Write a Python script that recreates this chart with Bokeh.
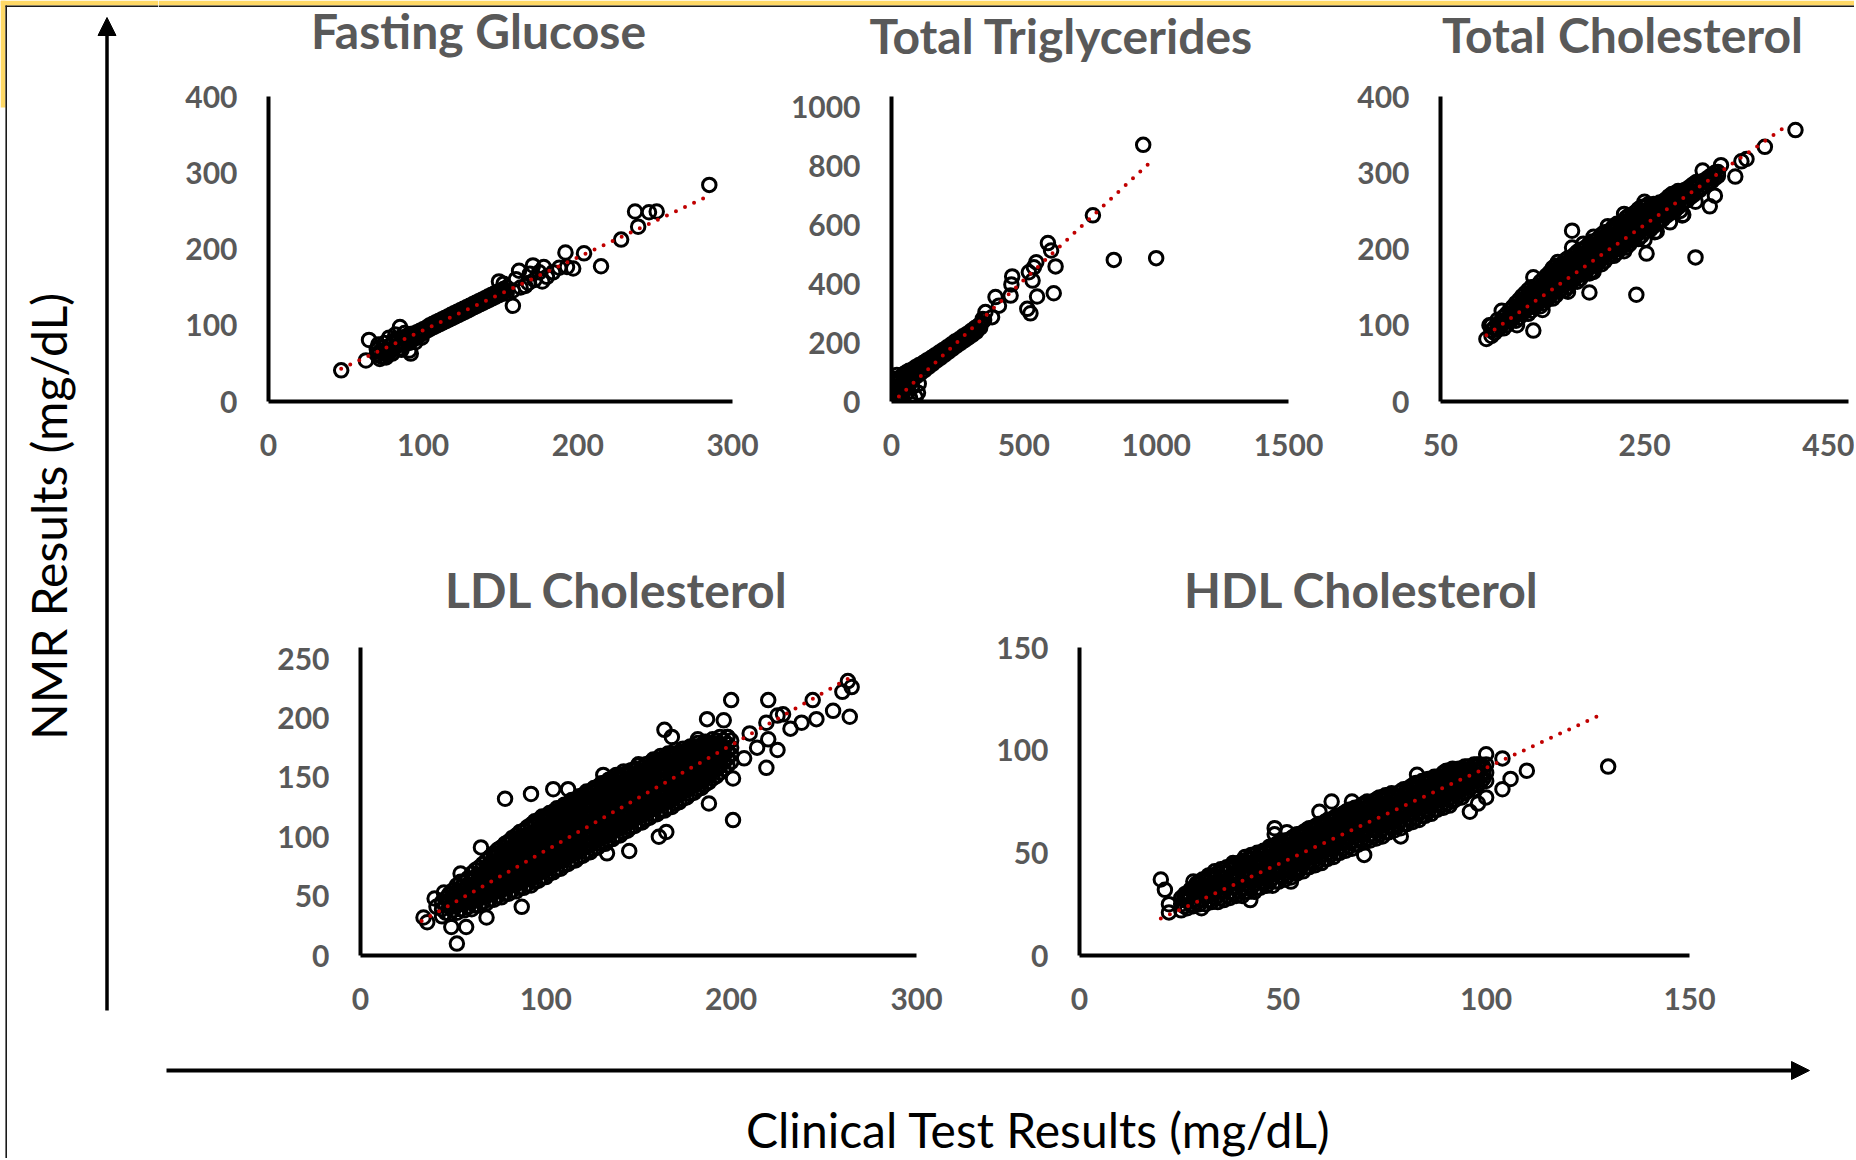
import math
from bokeh.plotting import figure
from bokeh.layouts import row, column
from bokeh.models import Range1d, FixedTicker, Arrow, NormalHead, Label
from bokeh.embed import file_html
from bokeh.resources import INLINE

# ---------------- texts ----------------
panel_titles = ["Fasting Glucose", "Total Triglycerides", "Total Cholesterol",
                "LDL Cholesterol", "HDL Cholesterol"]
x_axis_title = "Clinical Test Results (mg/dL)"
y_axis_title = "NMR Results (mg/dL)"

# ---------------- ticks ----------------
glucose_xticks = [0, 100, 200, 300]
glucose_yticks = [0, 100, 200, 300, 400]
trig_xticks = [0, 500, 1000, 1500]
trig_yticks = [0, 200, 400, 600, 800, 1000]
tc_xticks = [50, 250, 450]
tc_yticks = [0, 100, 200, 300, 400]
ldl_xticks = [0, 100, 200, 300]
ldl_yticks = [0, 50, 100, 150, 200, 250]
hdl_xticks = [0, 50, 100, 150]
hdl_yticks = [0, 50, 100, 150]

# ---------------- trend lines (end points) ----------------
glucose_trend_x = [47, 285]
glucose_trend_y = [43, 271]
trig_trend_x = [28, 987]
trig_trend_y = [17, 819]
tc_trend_x = [95, 392]
tc_trend_y = [87, 364]
ldl_trend_x = [33, 263]
ldl_trend_y = [29, 233]
hdl_trend_x = [20, 129]
hdl_trend_y = [18, 118]

# ---------------- points (clinical, NMR) ----------------
glucose_points = [
    (47, 41), (63, 54), (65, 81), (72, 56), (76, 58), (80, 63), (86, 68), (92, 63), (91, 67), (85, 98),
    (78, 84), (82, 88), (88, 90), (95, 78), (99, 84),
    (70, 62), (70, 69), (71, 75), (72, 65), (73, 59), (74, 71), (75, 64), (75, 77), (76, 68), (77, 61),
    (78, 73), (79, 66), (80, 76), (80, 69), (81, 80), (82, 72), (83, 78), (84, 74), (84, 83), (85, 70),
    (86, 79), (87, 84), (88, 76), (89, 82), (90, 80), (90, 87), (91, 77), (92, 85), (93, 89), (94, 82),
    (95, 88), (96, 91), (97, 86), (98, 93), (99, 89), (100, 95), (101, 92), (102, 97), (103, 94), (104, 100),
    (105, 96), (106, 102), (107, 98), (108, 104), (109, 100), (110, 106), (111, 102), (112, 108), (113, 104),
    (114, 110), (115, 106), (116, 112), (117, 108), (118, 114), (119, 110), (120, 116), (121, 112), (122, 118),
    (123, 114), (124, 120), (125, 116), (126, 122), (127, 118), (128, 124), (129, 120), (130, 126), (131, 122),
    (132, 128), (133, 124), (134, 130), (135, 126), (136, 132), (137, 128), (138, 134), (139, 130), (140, 136),
    (141, 132), (142, 138), (143, 134), (144, 140), (145, 136), (146, 142), (147, 138), (148, 144), (149, 140),
    (150, 146), (151, 142), (152, 148), (153, 145), (154, 150),
    (149, 158), (152, 155), (154, 142), (158, 146), (158, 126), (160, 161), (162, 172), (163, 150), (166, 152),
    (168, 156), (169, 168), (171, 179), (172, 160), (175, 170), (177, 158), (178, 177), (180, 164), (184, 170),
    (188, 176), (192, 196), (193, 177), (197, 175), (204, 195), (215, 178), (228, 213), (237, 250), (239, 230),
    (246, 249), (251, 250), (285, 285),
]

trig_points = [
    (15, 77), (53, 94), (91, 15), (40, 26), (78, 49), (103, 60), (30, 10), (60, 30), (70, 12), (20, 90), (100, 30),
    (5, 20), (8, 48), (12, 32), (15, 62), (18, 15), (22, 42), (25, 72), (28, 28), (32, 55), (35, 82), (38, 38),
    (42, 66), (45, 92), (48, 48), (52, 76), (55, 98), (58, 58), (62, 84), (66, 104), (70, 68), (74, 90), (78, 108),
    (82, 76), (86, 98), (90, 116), (95, 86), (100, 106), (105, 124), (110, 96), (115, 114), (120, 131), (125, 106),
    (130, 124), (135, 140), (140, 117), (145, 133), (150, 148), (155, 127), (160, 143), (165, 157), (170, 138),
    (175, 152), (180, 166), (185, 148), (190, 162), (195, 175), (200, 158), (205, 170), (210, 184), (215, 168),
    (220, 180), (225, 193), (230, 178), (235, 190), (240, 203), (245, 188), (250, 200), (255, 211), (260, 198),
    (265, 209), (270, 221), (275, 207), (280, 218), (285, 229), (290, 216), (295, 227), (300, 239), (305, 226),
    (310, 237), (315, 249), (320, 236), (325, 247), (330, 258), (335, 250), (340, 266), (350, 276),
    (345, 280), (355, 303), (380, 286), (393, 354), (406, 325), (450, 359), (453, 397), (456, 424), (513, 314),
    (525, 299), (519, 438), (533, 410), (538, 455), (547, 472), (550, 356), (591, 537), (603, 512), (613, 367),
    (620, 458), (761, 631), (840, 480), (951, 870), (1000, 486),
]

tc_points = [
    (95, 82), (98, 100), (110, 119), (125, 100), (141, 93), (141, 163), (150, 120), (165, 183), (175, 144),
    (179, 202), (179, 224), (190, 207), (196, 143), (200, 170), (200, 216), (214, 230), (230, 246), (230, 197),
    (242, 140), (250, 262), (250, 212), (252, 194), (260, 222), (262, 223), (275, 235), (285, 250), (287, 244),
    (288, 245), (300, 189), (300, 262), (307, 303), (314, 256), (319, 270), (322, 301), (325, 310), (339, 295),
    (345, 315), (350, 318), (368, 334), (398, 356),
]
tc_columns = [
    (100, [86, 93, 100]), (106, [94, 101, 107]), (112, [96, 103, 111]), (118, [105, 112, 120]),
    (124, [106, 114, 122, 129]), (130, [115, 123, 131, 138]), (136, [115, 123, 131, 139, 146]),
    (142, [124, 132, 140, 148]), (148, [125, 133, 141, 149, 157]), (154, [133, 141, 149, 157, 165]),
    (160, [135, 143, 151, 159, 167, 175]), (166, [144, 152, 160, 168, 176]),
    (172, [146, 154, 162, 170, 178, 185]), (178, [156, 164, 172, 180, 188]),
    (184, [157, 165, 173, 181, 189, 196]), (190, [167, 175, 183, 191, 199]),
    (196, [168, 176, 184, 192, 200, 207]), (202, [178, 186, 194, 202, 210]),
    (208, [180, 188, 196, 204, 212, 219]), (214, [189, 197, 205, 213, 221]),
    (220, [191, 199, 207, 215, 223, 230]), (226, [200, 208, 216, 224, 232]),
    (232, [202, 210, 218, 226, 234, 241]), (238, [212, 220, 228, 236, 244]),
    (244, [213, 221, 229, 237, 245, 252]), (250, [223, 231, 239, 247, 255]),
    (256, [226, 234, 242, 250, 256]), (262, [234, 242, 250, 258]), (268, [239, 247, 255, 262]),
    (274, [246, 254, 262, 269]), (280, [251, 259, 267, 273]), (286, [258, 266, 274]),
    (292, [264, 272, 279]), (298, [271, 279, 285]), (304, [277, 285]), (310, [283, 291]),
    (316, [289, 297]), (322, [296]),
    (103, [90, 97]), (109, [98, 105]), (115, [100, 107, 115]), (121, [109, 116, 124]),
    (127, [110, 118, 126, 133]), (133, [119, 127, 135, 142]), (139, [119, 127, 135, 143, 150]),
    (145, [128, 136, 144, 152]), (151, [129, 137, 145, 153, 161]), (157, [137, 145, 153, 161, 169]),
    (163, [139, 147, 155, 163, 171, 178]), (169, [148, 156, 164, 172, 180]),
    (175, [150, 158, 166, 174, 182, 188]), (181, [160, 168, 176, 184, 192]),
    (187, [161, 169, 177, 185, 193, 199]), (193, [171, 179, 187, 195, 203]),
    (199, [172, 180, 188, 196, 204, 210]), (205, [182, 190, 198, 206, 214]),
    (211, [184, 192, 200, 208, 216, 222]), (217, [193, 201, 209, 217, 225]),
    (223, [195, 203, 211, 219, 227, 233]), (229, [204, 212, 220, 228, 236]),
    (235, [206, 214, 222, 230, 238, 244]), (241, [216, 224, 232, 240, 248]),
    (247, [217, 225, 233, 241, 249, 255]), (253, [227, 235, 243, 251, 258]),
    (259, [230, 238, 246, 254, 259]), (265, [238, 246, 254, 261]), (271, [243, 251, 259, 265]),
    (277, [250, 258, 266, 272]), (283, [255, 263, 271, 276]), (289, [262, 270, 277]),
    (295, [268, 276, 282]), (301, [275, 283, 288]), (307, [281, 289]), (313, [287, 294]), (319, [293, 300]),
]

ldl_points = [
    (34, 32), (36, 28), (40, 48), (41, 41), (45, 53), (49, 24), (52, 10), (54, 69), (57, 24), (65, 91),
    (68, 32), (78, 132), (87, 41), (92, 136), (104, 140), (112, 140), (131, 152), (133, 86), (145, 88),
    (150, 161), (161, 100), (164, 190), (165, 104), (168, 184), (182, 182), (187, 199), (188, 128),
    (196, 198), (198, 184), (200, 215), (201, 149), (201, 114), (207, 166), (210, 187), (214, 175),
    (219, 158), (219, 196), (220, 182), (220, 215), (225, 202), (225, 173), (228, 203), (232, 191),
    (238, 196), (244, 215), (246, 199), (255, 206), (260, 222), (263, 231), (264, 201), (265, 226),
]
ldl_columns = [
    (44, [33, 39, 45]), (48, [35, 41, 47, 52]), (52, [36, 42, 48, 54, 59]), (56, [38, 44, 50, 56, 62]),
    (60, [39, 45, 51, 57, 63, 69]), (64, [42, 48, 54, 60, 66, 74]), (68, [44, 50, 56, 62, 68, 74, 80]),
    (72, [47, 53, 59, 65, 71, 77, 83, 86]), (76, [49, 55, 61, 67, 73, 79, 85, 91]),
    (80, [52, 58, 64, 70, 76, 82, 88, 94, 96]), (84, [54, 60, 66, 72, 78, 84, 90, 96, 101]),
    (88, [57, 63, 69, 75, 81, 87, 93, 99, 105]), (92, [59, 65, 71, 77, 83, 89, 95, 101, 107, 110]),
    (96, [63, 69, 75, 81, 87, 93, 99, 105, 111, 114]), (100, [66, 72, 78, 84, 90, 96, 102, 108, 114, 117]),
    (104, [70, 76, 82, 88, 94, 100, 106, 112, 118, 121]), (108, [73, 79, 85, 91, 97, 103, 109, 115, 121, 124]),
    (112, [77, 83, 89, 95, 101, 107, 113, 119, 125, 128]), (116, [80, 86, 92, 98, 104, 110, 116, 122, 128, 131]),
    (120, [84, 90, 96, 102, 108, 114, 120, 126, 132, 135]), (124, [87, 93, 99, 105, 111, 117, 123, 129, 135, 138]),
    (128, [91, 97, 103, 109, 115, 121, 127, 133, 139, 142]), (132, [94, 100, 106, 112, 118, 124, 130, 136, 142, 145]),
    (136, [98, 104, 110, 116, 122, 128, 134, 140, 146, 149]), (140, [101, 107, 113, 119, 125, 131, 137, 143, 149, 152]),
    (144, [105, 111, 117, 123, 129, 135, 141, 147, 153, 154]), (148, [109, 115, 121, 127, 133, 139, 145, 151, 157]),
    (152, [112, 118, 124, 130, 136, 142, 148, 154, 158]), (156, [116, 122, 128, 134, 140, 146, 152, 158, 162]),
    (160, [119, 125, 131, 137, 143, 149, 155, 161, 165]), (164, [122, 128, 134, 140, 146, 152, 158, 164, 167]),
    (168, [125, 131, 137, 143, 149, 155, 161, 167, 170]), (172, [129, 135, 141, 147, 153, 159, 165, 171]),
    (176, [133, 139, 145, 151, 157, 163, 169, 173]), (180, [137, 143, 149, 155, 161, 167, 173, 176]),
    (184, [141, 147, 153, 159, 165, 171, 177]), (188, [146, 152, 158, 164, 170, 176, 179]),
    (192, [151, 157, 163, 169, 175, 181]), (196, [157, 163, 169, 175, 181]), (200, [163, 169, 175, 181]),
    (46, [36, 42, 48]), (50, [38, 44, 50, 55]), (54, [39, 45, 51, 57, 62]), (58, [41, 47, 53, 59, 65]),
    (62, [42, 48, 54, 60, 66, 72]), (66, [45, 51, 57, 63, 69, 77]), (70, [47, 53, 59, 65, 71, 77, 83]),
    (74, [50, 56, 62, 68, 74, 80, 86, 89]), (78, [52, 58, 64, 70, 76, 82, 88, 94]),
    (82, [55, 61, 67, 73, 79, 85, 91, 97, 99]), (86, [57, 63, 69, 75, 81, 87, 93, 99, 104]),
    (90, [60, 66, 72, 78, 84, 90, 96, 102, 108]), (94, [62, 68, 74, 80, 86, 92, 98, 104, 110, 113]),
    (98, [66, 72, 78, 84, 90, 96, 102, 108, 114, 117]), (102, [69, 75, 81, 87, 93, 99, 105, 111, 117, 120]),
    (106, [73, 79, 85, 91, 97, 103, 109, 115, 121, 124]), (110, [76, 82, 88, 94, 100, 106, 112, 118, 124, 127]),
    (114, [80, 86, 92, 98, 104, 110, 116, 122, 128, 131]), (118, [83, 89, 95, 101, 107, 113, 119, 125, 131, 134]),
    (122, [87, 93, 99, 105, 111, 117, 123, 129, 135, 138]), (126, [90, 96, 102, 108, 114, 120, 126, 132, 138, 141]),
    (130, [94, 100, 106, 112, 118, 124, 130, 136, 142, 145]), (134, [97, 103, 109, 115, 121, 127, 133, 139, 145, 148]),
    (138, [101, 107, 113, 119, 125, 131, 137, 143, 149, 152]), (142, [104, 110, 116, 122, 128, 134, 140, 146, 152, 155]),
    (146, [108, 114, 120, 126, 132, 138, 144, 150, 156]), (150, [112, 118, 124, 130, 136, 142, 148, 154, 160]),
    (154, [115, 121, 127, 133, 139, 145, 151, 157, 161]), (158, [119, 125, 131, 137, 143, 149, 155, 161, 165]),
    (162, [122, 128, 134, 140, 146, 152, 158, 164, 168]), (166, [125, 131, 137, 143, 149, 155, 161, 167, 170]),
    (170, [128, 134, 140, 146, 152, 158, 164, 170, 173]), (174, [132, 138, 144, 150, 156, 162, 168, 174]),
    (178, [136, 142, 148, 154, 160, 166, 172, 176]), (182, [140, 146, 152, 158, 164, 170, 176, 179]),
    (186, [144, 150, 156, 162, 168, 174, 180]), (190, [149, 155, 161, 167, 173, 179, 182]),
    (194, [154, 160, 166, 172, 178, 184]), (198, [160, 166, 172, 178, 184]),
]

hdl_points = [
    (20, 37), (21, 32), (22, 25), (22, 21), (26, 30), (28, 36), (30, 23), (42, 27), (48, 62), (48, 59),
    (51, 60), (52, 36), (59, 70), (62, 75), (67, 75), (70, 49), (79, 58), (83, 88), (92, 89), (94, 91),
    (96, 70), (97, 93), (98, 74), (100, 98), (100, 77), (104, 96), (104, 81), (106, 86), (110, 90), (130, 92),
]
hdl_columns = [
    (25, [22, 25, 28]), (26.5, [23, 27, 30]), (28, [24, 27, 31, 33]), (29.5, [25, 29, 32, 35]),
    (31, [25, 29, 32, 36, 37]), (32.5, [26, 30, 33, 37, 39]), (34, [26, 29, 33, 36, 40]),
    (35.5, [27, 31, 34, 38, 42]), (37, [28, 31, 35, 38, 42, 43]), (38.5, [29, 33, 36, 40, 44]),
    (40, [29, 33, 36, 40, 43, 46]), (41.5, [31, 34, 38, 41, 45, 47]), (43, [31, 35, 38, 42, 45, 49]),
    (44.5, [33, 36, 40, 43, 47, 50]), (46, [34, 37, 41, 44, 48, 51]), (47.5, [34, 38, 41, 45, 48, 52, 53]),
    (49, [36, 39, 43, 46, 50, 53, 55]), (50.5, [37, 40, 44, 47, 51, 54, 56]), (52, [38, 42, 45, 49, 52, 56, 57]),
    (53.5, [40, 43, 47, 50, 54, 57, 59]), (55, [41, 45, 48, 52, 55, 59, 60]), (56.5, [43, 46, 50, 53, 57, 60, 62]),
    (58, [44, 48, 51, 55, 58, 62, 63]), (59.5, [45, 49, 52, 56, 59, 63, 64]), (61, [47, 50, 54, 57, 61, 64, 66]),
    (62.5, [48, 52, 55, 59, 62, 66, 67]), (64, [50, 53, 57, 60, 64, 67, 68]), (65.5, [51, 55, 58, 62, 65, 69, 70]),
    (67, [52, 56, 59, 63, 66, 70, 71]), (68.5, [54, 57, 61, 64, 68, 71, 72]), (70, [55, 59, 62, 66, 69, 73, 74]),
    (71.5, [56, 59, 63, 66, 70, 73, 74]), (73, [57, 61, 64, 68, 71, 75, 76]), (74.5, [58, 62, 65, 69, 72, 76, 77]),
    (76, [60, 63, 67, 70, 74, 77, 78]), (77.5, [61, 65, 68, 72, 75, 78]), (79, [62, 66, 69, 73, 76, 80]),
    (80.5, [64, 67, 71, 74, 78, 81]), (82, [65, 69, 72, 76, 79, 83]), (83.5, [66, 70, 73, 77, 80, 84]),
    (85, [68, 71, 75, 78, 82, 85]), (86.5, [69, 73, 76, 80, 83, 86]), (88, [71, 74, 78, 81, 85, 87]),
    (89.5, [72, 76, 79, 83, 86, 89]), (91, [73, 77, 80, 84, 87, 90]), (92.5, [76, 79, 83, 86, 90]),
    (94, [77, 81, 84, 88, 91]), (95.5, [80, 83, 87, 90, 92]), (97, [81, 85, 88, 92]),
    (98.5, [84, 87, 91, 93]), (100, [85, 89, 93]),
    (25.75, [24, 27, 29]), (27.25, [25, 29, 32]), (28.75, [26, 29, 33, 35]), (30.25, [27, 31, 34, 37]),
    (31.75, [27, 31, 34, 38, 39]), (33.25, [28, 32, 35, 39, 41]), (34.75, [28, 31, 35, 38, 42]),
    (36.25, [29, 33, 36, 40, 43]), (37.75, [30, 33, 37, 40, 44, 45]), (39.25, [31, 35, 38, 42, 45]),
    (40.75, [31, 35, 38, 42, 45, 48]), (42.25, [33, 36, 40, 43, 47, 49]), (43.75, [33, 37, 40, 44, 47, 50]),
    (45.25, [35, 38, 42, 45, 49, 51]), (46.75, [36, 39, 43, 46, 50, 53]), (48.25, [36, 40, 43, 47, 50, 54]),
    (49.75, [38, 41, 45, 48, 52, 55]), (51.25, [39, 42, 46, 49, 53, 56]), (52.75, [40, 44, 47, 51, 54, 58]),
    (54.25, [42, 45, 49, 52, 56, 59]), (55.75, [43, 47, 50, 54, 57, 61]), (57.25, [45, 48, 52, 55, 59, 62]),
    (58.75, [46, 50, 53, 57, 60, 64]), (60.25, [47, 51, 54, 58, 61, 65]), (61.75, [49, 52, 56, 59, 63, 66]),
    (63.25, [50, 54, 57, 61, 64, 68]), (64.75, [52, 55, 59, 62, 66, 69]), (66.25, [53, 57, 60, 64, 67, 71]),
    (67.75, [54, 58, 61, 65, 68, 72]), (69.25, [56, 59, 63, 66, 70, 73]), (70.75, [57, 61, 64, 68, 71, 75]),
    (72.25, [58, 61, 65, 68, 72, 75]), (73.75, [59, 63, 66, 70, 73, 77]), (75.25, [60, 64, 67, 71, 74, 78]),
    (76.75, [62, 65, 69, 72, 76, 79]), (78.25, [63, 67, 70, 74, 77]), (79.75, [64, 68, 71, 75, 78, 81]),
    (81.25, [66, 69, 73, 76, 80, 82]), (82.75, [67, 71, 74, 78, 81, 84]), (84.25, [68, 72, 75, 79, 82, 85]),
    (85.75, [70, 73, 77, 80, 84, 86]), (87.25, [71, 75, 78, 82, 85, 87]), (88.75, [73, 76, 80, 83, 87]),
    (90.25, [74, 78, 81, 85, 88, 90]), (91.75, [75, 79, 82, 86, 89, 91]), (93.25, [78, 81, 85, 88, 91]),
    (94.75, [79, 83, 86, 90, 92]), (96.25, [82, 85, 89, 91]), (97.75, [83, 87, 90, 93]), (99.25, [86, 89, 92]),
]


def unpack(points, columns=()):
    xs = [p[0] for p in points]
    ys = [p[1] for p in points]
    for cx, cys in columns:
        for cy in cys:
            xs.append(cx)
            ys.append(cy)
    return xs, ys


GRAY = "#595959"
RED = "#C00000"
FONT = "Lato"
YELLOW = "#FFD966"
EDGE = "#1a1a1a"


def make_panel(xs, ys, tx, ty, xr, yr, xticks, yticks, w, h, bl, br, bt, bb):
    p = figure(width=w, height=h, x_range=Range1d(*xr), y_range=Range1d(*yr),
               output_backend="svg", toolbar_location=None, title=None,
               min_border_left=bl, min_border_right=br, min_border_top=bt, min_border_bottom=bb)
    p.grid.visible = False
    p.outline_line_color = None
    p.background_fill_color = "white"
    p.border_fill_color = "white"
    p.xaxis.ticker = FixedTicker(ticks=xticks)
    p.yaxis.ticker = FixedTicker(ticks=yticks)
    for ax in (p.xaxis, p.yaxis):
        ax.axis_line_color = "black"
        ax.axis_line_width = 4
        ax.major_tick_line_color = None
        ax.minor_tick_line_color = None
        ax.major_tick_out = 0
        ax.major_tick_in = 0
        ax.major_label_text_font = FONT
        ax.major_label_text_font_style = "bold"
        ax.major_label_text_font_size = "30px"
        ax.major_label_text_color = GRAY
    p.xaxis.major_label_standoff = 32
    p.yaxis.major_label_standoff = 31
    p.scatter(xs, ys, marker="circle", size=13.5, fill_color=None,
              line_color="black", line_width=3)
    p.line(tx, ty, line_color=RED, line_width=4, line_dash="0 10", line_cap="round")
    return p


def deco(w, h):
    d = figure(width=w, height=h, x_range=Range1d(0, w), y_range=Range1d(0, h),
               output_backend="svg", toolbar_location=None, title=None,
               x_axis_location=None, y_axis_location=None, min_border=0)
    d.grid.visible = False
    d.outline_line_color = None
    d.background_fill_color = "white"
    d.border_fill_color = "white"
    return d


def add_title(strip, text, x, y):
    strip.add_layout(Label(x=x, y=y, text=text, text_align="center", text_baseline="middle",
                           text_font=FONT, text_font_style="bold", text_font_size="48px",
                           text_color=GRAY))


gx, gy = unpack(glucose_points)
trx, try_ = unpack(trig_points)
tcx, tcy = unpack(tc_points, tc_columns)
lx, ly = unpack(ldl_points, ldl_columns)
hx, hy = unpack(hdl_points, hdl_columns)

# top row: page y 70..480, frames 96..401
p1 = make_panel(gx, gy, glucose_trend_x, glucose_trend_y, (0, 300), (0, 401.3),
                glucose_xticks, glucose_yticks, 602, 410, 110, 28, 26, 79)
p2 = make_panel(trx, try_, trig_trend_x, trig_trend_y, (0, 1500), (0, 1033.9),
                trig_xticks, trig_yticks, 580, 410, 131, 52, 26, 79)
p3 = make_panel(tcx, tcy, tc_trend_x, tc_trend_y, (50, 450), (0, 400),
                tc_xticks, tc_yticks, 514, 410, 100, 6, 26, 79)
# bottom row: page y 620..1030, frames 647..955
p4 = make_panel(lx, ly, ldl_trend_x, ldl_trend_y, (0, 300), (0, 259.3),
                ldl_xticks, ldl_yticks, 810, 410, 202, 52, 27, 75)
p5 = make_panel(hx, hy, hdl_trend_x, hdl_trend_y, (0, 150), (0, 150),
                hdl_xticks, hdl_yticks, 886, 410, 111, 165, 27, 75)

RIGHT_X0 = 158
RIGHT_W = 1696
top_titles = deco(RIGHT_W, 70)
top_titles.quad(left=0, right=RIGHT_W, bottom=65, top=70, fill_color=YELLOW, line_color=None)
top_titles.segment(x0=0, y0=64.3, x1=RIGHT_W, y1=64.3, line_color=EDGE, line_width=1.6)
add_title(top_titles, panel_titles[0], 478 - RIGHT_X0, 70 - 30)
add_title(top_titles, panel_titles[1], 1061 - RIGHT_X0, 70 - 35)
add_title(top_titles, panel_titles[2], 1622 - RIGHT_X0, 70 - 33.5)

mid_titles = deco(RIGHT_W, 140)
add_title(mid_titles, panel_titles[3], 616 - RIGHT_X0, 620 - 589)
add_title(mid_titles, panel_titles[4], 1361 - RIGHT_X0, 620 - 589)

TOTAL_H = 1158
left = deco(RIGHT_X0, TOTAL_H)
left.quad(left=0, right=RIGHT_X0, bottom=TOTAL_H - 5, top=TOTAL_H, fill_color=YELLOW, line_color=None)
left.quad(left=0, right=5, bottom=TOTAL_H - 107, top=TOTAL_H, fill_color=YELLOW, line_color=None)
left.segment(x0=5, y0=TOTAL_H - 5.7, x1=RIGHT_X0, y1=TOTAL_H - 5.7, line_color=EDGE, line_width=1.6)
left.segment(x0=5.7, y0=0, x1=5.7, y1=TOTAL_H - 5, line_color=EDGE, line_width=1.6)
left.add_layout(Arrow(end=NormalHead(size=18, fill_color="black", line_color="black"),
                      x_start=106.5, y_start=TOTAL_H - 1010, x_end=106.5, y_end=TOTAL_H - 17,
                      line_color="black", line_width=3.5))
left.add_layout(Label(x=48, y=TOTAL_H - 516, text=y_axis_title, angle=math.pi / 2,
                      text_align="center", text_baseline="middle",
                      text_font=FONT, text_font_size="48px", text_color="black"))

bottom = deco(RIGHT_W, TOTAL_H - 1030)
bottom.add_layout(Arrow(end=NormalHead(size=18, fill_color="black", line_color="black"),
                        x_start=8, y_start=TOTAL_H - 1070, x_end=1651, y_end=TOTAL_H - 1070,
                        line_color="black", line_width=4))
bottom.add_layout(Label(x=880, y=TOTAL_H - 1129, text=x_axis_title,
                        text_align="center", text_baseline="middle",
                        text_font=FONT, text_font_size="48px", text_color="black"))

layout = row(left, column(top_titles, row(p1, p2, p3), mid_titles, row(p4, p5), bottom))

html = file_html(layout, INLINE, "NMR vs clinical results")
open("out.html", "w").write(html)
